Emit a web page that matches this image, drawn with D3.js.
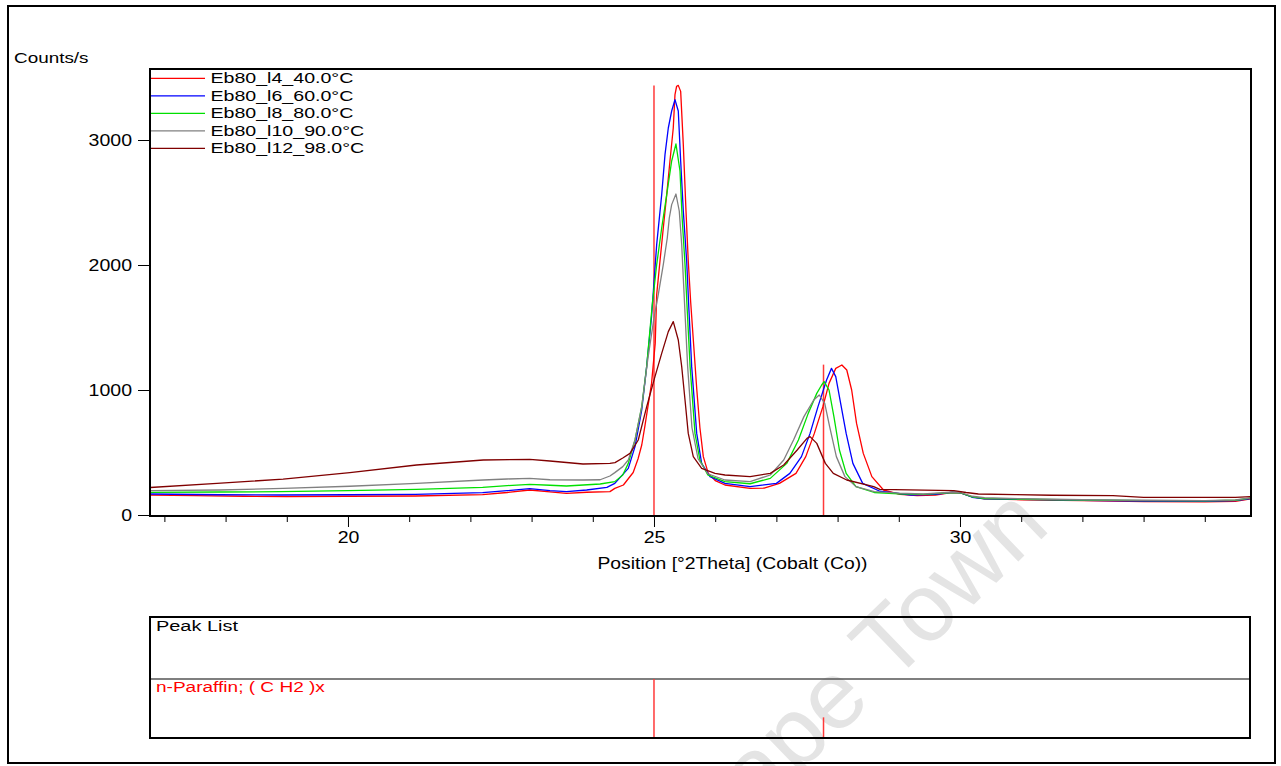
<!DOCTYPE html>
<html>
<head>
<meta charset="utf-8">
<script src="https://cdn.jsdelivr.net/npm/d3@7/dist/d3.min.js"></script>
<style>
  html, body { margin: 0; padding: 0; background: #fff; }
  svg { display: block; font-family: "Liberation Sans", Arial, sans-serif; }
</style>
</head>
<body>
<svg id="chart" width="1281" height="766"></svg>
<script>
// ---------------- DATA ----------------
const seriesNames = ["Eb80_l4_40.0°C", "Eb80_l6_60.0°C", "Eb80_l8_80.0°C", "Eb80_l10_90.0°C", "Eb80_l12_98.0°C"];

const s40 = [[16.77,160],[17.5,155],[18.3,150],[19.0,147],[20.0,150],[21.1,152],[22.2,163],[22.6,180],[22.97,200],[23.3,185],[23.57,173],[23.9,182],[24.28,187],[24.36,213],[24.50,240],[24.58,290],[24.66,340],[24.74,450],[24.80,560],[24.85,707],[24.96,1053],[25.02,1373],[25.044,1763],[25.098,2032],[25.152,2296],[25.208,2563],[25.261,2832],[25.315,3096],[25.343,3363],[25.37,3430],[25.397,3437],[25.436,3389],[25.479,2963],[25.523,2432],[25.560,2032],[25.60,1700],[25.65,1350],[25.70,1000],[25.75,700],[25.806,467],[25.887,333],[26.0,275],[26.16,240],[26.57,213],[26.8,215],[27.05,253],[27.32,333],[27.48,467],[27.62,653],[27.76,867],[27.86,1053],[27.97,1173],[28.07,1200],[28.15,1160],[28.23,1000],[28.31,733],[28.42,493],[28.56,307],[28.75,200],[29.02,165],[29.3,155],[29.6,160],[29.85,180],[30.0,178],[30.2,145],[30.4,130],[31.0,122],[32.0,115],[33.0,108],[34.0,105],[34.5,110],[34.75,130]];

const s60 = [[16.77,168],[17.9,162],[18.9,160],[20.0,162],[21.1,165],[22.2,179],[22.6,195],[22.97,211],[23.3,195],[23.57,187],[23.9,200],[24.23,221],[24.36,253],[24.58,373],[24.69,547],[24.80,840],[24.88,1187],[24.96,1587],[25.044,2163],[25.126,2563],[25.18,2883],[25.234,3096],[25.289,3232],[25.343,3323],[25.397,3232],[25.436,2832],[25.479,2432],[25.534,2032],[25.572,1632],[25.616,1187],[25.698,653],[25.779,413],[25.915,307],[26.16,253],[26.57,227],[27.0,253],[27.22,333],[27.41,467],[27.55,653],[27.68,867],[27.82,1080],[27.90,1173],[27.97,1107],[28.05,893],[28.14,653],[28.25,413],[28.41,253],[28.69,190],[29.2,160],[29.6,165],[29.88,182],[30.0,178],[30.2,142],[30.4,130],[31.0,125],[32.0,118],[33.0,112],[34.0,110],[34.5,115],[34.75,132]];

const s80 = [[16.77,181],[17.9,184],[18.9,187],[20.0,195],[21.12,205],[22.2,221],[22.6,235],[22.97,245],[23.3,238],[23.57,232],[24.12,248],[24.36,267],[24.49,320],[24.58,413],[24.69,600],[24.80,867],[24.88,1187],[24.972,1683],[25.044,2003],[25.126,2296],[25.208,2563],[25.289,2832],[25.359,2968],[25.425,2752],[25.46,2376],[25.507,2003],[25.544,1632],[25.59,1187],[25.67,653],[25.75,440],[25.88,320],[26.16,267],[26.57,250],[26.9,293],[27.17,413],[27.36,600],[27.52,813],[27.66,973],[27.74,1040],[27.78,1067],[27.86,1000],[27.94,787],[28.03,520],[28.14,333],[28.30,227],[28.6,180],[29.0,170],[29.4,165],[29.88,180],[30.0,178],[30.2,145],[30.4,132],[31.0,126],[32.0,120],[33.0,115],[34.0,113],[34.5,118],[34.75,135]];

const s90 = [[16.77,195],[17.9,200],[18.94,213],[20.03,230],[21.12,253],[22.21,280],[22.6,288],[22.97,293],[23.3,282],[23.84,280],[24.12,282],[24.28,312],[24.36,339],[24.49,387],[24.58,440],[24.69,600],[24.80,867],[24.9,1250],[25.0,1576],[25.07,1763],[25.152,2003],[25.217,2216],[25.25,2376],[25.289,2483],[25.359,2568],[25.413,2432],[25.453,2163],[25.479,1896],[25.511,1576],[25.55,1187],[25.62,700],[25.72,450],[25.88,330],[26.16,280],[26.57,267],[26.9,320],[27.12,440],[27.28,600],[27.45,787],[27.61,920],[27.70,960],[27.79,893],[27.87,707],[27.98,467],[28.12,307],[28.3,227],[28.6,187],[29.0,175],[29.4,168],[29.88,182],[30.0,180],[30.2,150],[30.4,138],[31.0,130],[32.0,122],[33.0,118],[34.0,115],[34.5,120],[34.75,137]];

const s98 = [[16.77,220],[17.86,253],[18.94,287],[20.03,339],[21.12,400],[22.21,440],[22.97,445],[23.3,432],[23.84,408],[24.28,413],[24.363,419],[24.49,456],[24.608,493],[24.743,600],[24.881,867],[25.016,1107],[25.126,1293],[25.234,1467],[25.315,1547],[25.397,1400],[25.453,1187],[25.507,920],[25.56,653],[25.642,467],[25.779,373],[25.997,333],[26.16,320],[26.57,307],[26.9,333],[27.12,400],[27.34,520],[27.5,613],[27.55,627],[27.66,573],[27.80,413],[27.93,333],[28.15,280],[28.59,227],[28.69,205],[29.9,195],[30.1,180],[30.3,168],[30.9,163],[31.5,158],[32.5,155],[33.0,141],[34.5,141],[34.75,147]];

const yTicks = [0, 1000, 2000, 3000];
const xMajorTicks = [20, 25, 30];
const xMinorTicks = [17,18,19,21,22,23,24,26,27,28,29,31,32,33,34];

const peakPositions = [25.00, 27.77];
const peakRelIntensity = [100, 35];
const phaseName = "n-Paraffin; ( C H2 )x";

// ---------------- LAYOUT / STYLE ----------------
const colors = ["#ff0000", "#0000ff", "#00e000", "#808080", "#800000"];
const allSeries = [s40, s60, s80, s90, s98];

const plot = { left: 150, right: 1251, top: 69, bottom: 515 };
const svg = d3.select("#chart");

const x = d3.scaleLinear().domain([16.765, 34.755]).range([plot.left, plot.right]);
const y = d3.scaleLinear().domain([0, 3568]).range([plot.bottom, plot.top]);

// watermark
svg.append("text")
  .attr("transform", "translate(1052,529) rotate(-44)")
  .attr("text-anchor", "end")
  .attr("font-size", 96)
  .attr("fill", "#e4e4e4")
  .text("Cape Town");

// outer frame
svg.append("rect").attr("x", 8).attr("y", 6).attr("width", 1267).attr("height", 757)
  .attr("fill", "none").attr("stroke", "#000").attr("stroke-width", 2);

function stretchText(sel, sx) {
  sel.each(function() {
    const t = d3.select(this);
    const tx = +t.attr("x") || 0;
    const ty = +t.attr("y") || 0;
    t.attr("x", 0).attr("y", 0)
     .attr("transform", `translate(${tx},${ty}) scale(${sx},1)`);
  });
}

// "Counts/s"
svg.append("text").attr("x", 14).attr("y", 63).attr("font-size", 14).text("Counts/s")
  .call(stretchText, 1.35);

// clip
svg.append("clipPath").attr("id", "clip").append("rect")
  .attr("x", plot.left).attr("y", plot.top).attr("width", plot.right - plot.left).attr("height", plot.bottom + 1 - plot.top);

// reference lines in plot
const maxCounts = d3.max(allSeries, s => d3.max(s, d => d[1]));
svg.append("g").selectAll("line").data(peakPositions).join("line")
  .attr("x1", d => x(d)).attr("x2", d => x(d))
  .attr("y1", (d, i) => y(maxCounts * peakRelIntensity[i] / 100)).attr("y2", y(0))
  .attr("stroke", "#ff3a3a").attr("stroke-width", 1.5);

// curves
const line = d3.line().x(d => x(d[0])).y(d => y(d[1]));
svg.append("g").attr("clip-path", "url(#clip)")
  .selectAll("path").data(allSeries).join("path")
  .attr("d", line).attr("fill", "none")
  .attr("stroke", (d, i) => colors[i]).attr("stroke-width", 1.3)
  .attr("stroke-linejoin", "round");

// y axis
const yAxis = svg.append("g").attr("transform", `translate(${plot.left},0)`)
  .call(d3.axisLeft(y).tickValues(yTicks).tickSize(12).tickPadding(6).tickFormat(d3.format("d")));
yAxis.select(".domain").remove();
yAxis.selectAll("text").attr("font-size", 16).attr("font-family", "Liberation Sans, Arial, sans-serif")
  .attr("fill", "#000").attr("dy", "0.36em");
yAxis.selectAll("text").each(function() {
  const t = d3.select(this);
  const tx = +t.attr("x");
  t.attr("x", 0).attr("transform", `translate(${tx},0) scale(1.22,1)`);
});

// x axis
const axisY = plot.bottom + 1;
const xMinor = svg.append("g").attr("transform", `translate(0,${axisY})`)
  .call(d3.axisBottom(x).tickValues(xMinorTicks).tickSize(6).tickFormat(""));
xMinor.select(".domain").remove();
const xMajor = svg.append("g").attr("transform", `translate(0,${axisY})`)
  .call(d3.axisBottom(x).tickValues(xMajorTicks).tickSize(11).tickPadding(5).tickFormat(d3.format("d")));
xMajor.select(".domain").remove();
xMajor.selectAll("text").attr("font-size", 16).attr("font-family", "Liberation Sans, Arial, sans-serif")
  .attr("fill", "#000");
xMajor.selectAll("text").each(function() {
  const t = d3.select(this);
  const ty = +t.attr("y");
  t.attr("y", 0).attr("transform", `translate(0,${ty}) scale(1.22,1)`);
});

// plot frame
svg.append("rect").attr("x", plot.left).attr("y", plot.top)
  .attr("width", plot.right - plot.left).attr("height", axisY - plot.top)
  .attr("fill", "none").attr("stroke", "#000").attr("stroke-width", 2);

// x title
svg.append("text").attr("x", (plot.left + plot.right) / 2 + 32).attr("y", 569)
  .attr("text-anchor", "middle").attr("font-size", 16)
  .text("Position [°2Theta] (Cobalt (Co))").call(stretchText, 1.21);

// legend
const legend = svg.append("g");
seriesNames.forEach((name, i) => {
  const by = 83.3 + i * 17.5;
  legend.append("line").attr("x1", 151).attr("x2", 205).attr("y1", by - 5).attr("y2", by - 5)
    .attr("stroke", colors[i]).attr("stroke-width", 1.2);
  legend.append("text").attr("x", 210.5).attr("y", by).attr("font-size", 14).text(name)
    .call(stretchText, 1.4);
});

// peak list box
const pl = { left: 150, right: 1250, top: 617, sep: 679, bottom: 738 };
svg.append("line").attr("x1", pl.left).attr("x2", pl.right).attr("y1", pl.sep).attr("y2", pl.sep)
  .attr("stroke", "#555").attr("stroke-width", 1.5);
svg.append("g").selectAll("line").data(peakPositions).join("line")
  .attr("x1", d => x(d)).attr("x2", d => x(d))
  .attr("y1", (d, i) => pl.bottom - (pl.bottom - pl.sep) * peakRelIntensity[i] / 100)
  .attr("y2", pl.bottom)
  .attr("stroke", "#ff3a3a").attr("stroke-width", 1.5);
svg.append("rect").attr("x", pl.left).attr("y", pl.top)
  .attr("width", pl.right - pl.left).attr("height", pl.bottom - pl.top)
  .attr("fill", "none").attr("stroke", "#000").attr("stroke-width", 2);
svg.append("text").attr("x", 156).attr("y", 631).attr("font-size", 15).text("Peak List")
  .call(stretchText, 1.33);
svg.append("text").attr("x", 156).attr("y", 692).attr("font-size", 14).attr("fill", "#ff0000")
  .text(phaseName).call(stretchText, 1.36);
</script>
</body>
</html>
